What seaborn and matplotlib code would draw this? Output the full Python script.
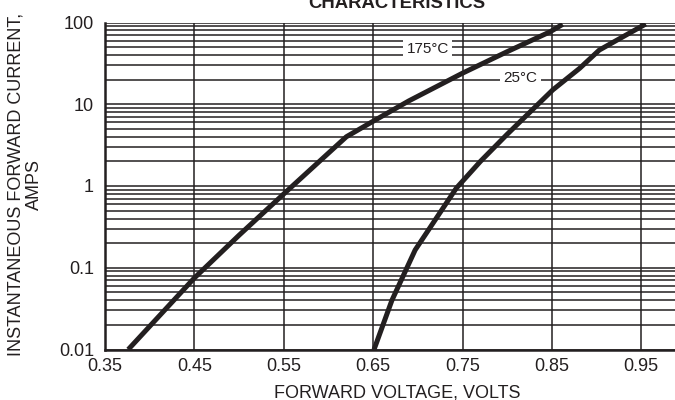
import numpy as np
import pandas as pd
import matplotlib
matplotlib.use("Agg")
import matplotlib.pyplot as plt
from matplotlib.ticker import LogLocator, FixedLocator, NullFormatter
import seaborn as sns

# ---- data ----
v_175 = [0.376, 0.45, 0.50, 0.55, 0.62, 0.65, 0.69, 0.75, 0.80, 0.848, 0.862]
i_175 = [0.01, 0.075, 0.25, 0.80, 4.0, 6.2, 11.0, 24.0, 44.0, 77.0, 95.0]
v_25 = [0.651, 0.671, 0.697, 0.743, 0.77, 0.80, 0.851, 0.881, 0.903, 0.955]
i_25 = [0.01, 0.04, 0.165, 0.94, 2.0, 4.3, 15.0, 27.5, 46.0, 96.0]
x_ticks = [0.35, 0.45, 0.55, 0.65, 0.75, 0.85, 0.95]
x_tick_labels = ["0.35", "0.45", "0.55", "0.65", "0.75", "0.85", "0.95"]
y_ticks = [0.01, 0.1, 1, 10, 100]
y_tick_labels = ["0.01", "0.1", "1", "10", "100"]
curve_labels = ["175°C", "25°C"]
label_pos_v = [0.711, 0.815]
label_pos_i = [48.0, 21.0]

df = pd.concat([
    pd.DataFrame({"V": v_175, "I": i_175, "T": curve_labels[0]}),
    pd.DataFrame({"V": v_25, "I": i_25, "T": curve_labels[1]}),
], ignore_index=True)

sns.set_style("white")
plt.rcParams["font.family"] = ["Liberation Sans", "DejaVu Sans"]

ink = "#231f20"
fig = plt.figure(figsize=(6.75, 4.0), dpi=100)
ax = fig.add_axes([105 / 675, 50.5 / 400, 581 / 675, 327 / 400])

ax.set_yscale("log")
ax.set_xlim(0.35, 1.0)
ax.set_ylim(0.01, 100)

ax.xaxis.set_major_locator(FixedLocator(x_ticks))
ax.set_xticklabels(x_tick_labels)
ax.yaxis.set_major_locator(FixedLocator(y_ticks))
ax.set_yticklabels(y_tick_labels)
ax.yaxis.set_minor_locator(LogLocator(base=10, subs=np.arange(2, 10)))
ax.yaxis.set_minor_formatter(NullFormatter())

ax.grid(True, which="major", axis="both", color=ink, linewidth=1.1)
ax.grid(True, which="minor", axis="y", color=ink, linewidth=1.1)
ax.set_axisbelow(True)

ax.tick_params(axis="both", which="both", length=0, labelsize=13, colors=ink)
ax.tick_params(axis="x", pad=6)
ax.tick_params(axis="y", pad=8)

for s in ["top", "right"]:
    ax.spines[s].set_visible(False)
for s in ["left", "bottom"]:
    ax.spines[s].set_color(ink)
    ax.spines[s].set_linewidth(1.8)

sns.lineplot(data=df, x="V", y="I", hue="T", palette=[ink, ink], sort=False,
             estimator=None, linewidth=3.6, legend=False, ax=ax,
             solid_capstyle="butt", solid_joinstyle="round")
ax.set_xlabel("")
ax.set_ylabel("")

for lab, xv, yv in zip(curve_labels, label_pos_v, label_pos_i):
    ax.text(xv, yv, lab, fontsize=11, color=ink, ha="center", va="center",
            bbox=dict(facecolor="white", edgecolor="none", pad=2.5), zorder=5)

fig.text(396.5 / 675, 1 - 8.3 / 400, "CHARACTERISTICS", ha="center",
         va="baseline", fontsize=13.3, fontweight="bold", color=ink)
fig.text(397 / 675, 3 / 400, "FORWARD VOLTAGE, VOLTS", ha="center",
         va="baseline", fontsize=13, color=ink)
fig.text(25 / 675, 1 - 184 / 400, "INSTANTANEOUS FORWARD CURRENT,\nAMPS",
         rotation=90, ha="center", va="center", multialignment="center",
         linespacing=1.1, fontsize=13, color=ink)

fig.savefig("out.png", dpi=100)
